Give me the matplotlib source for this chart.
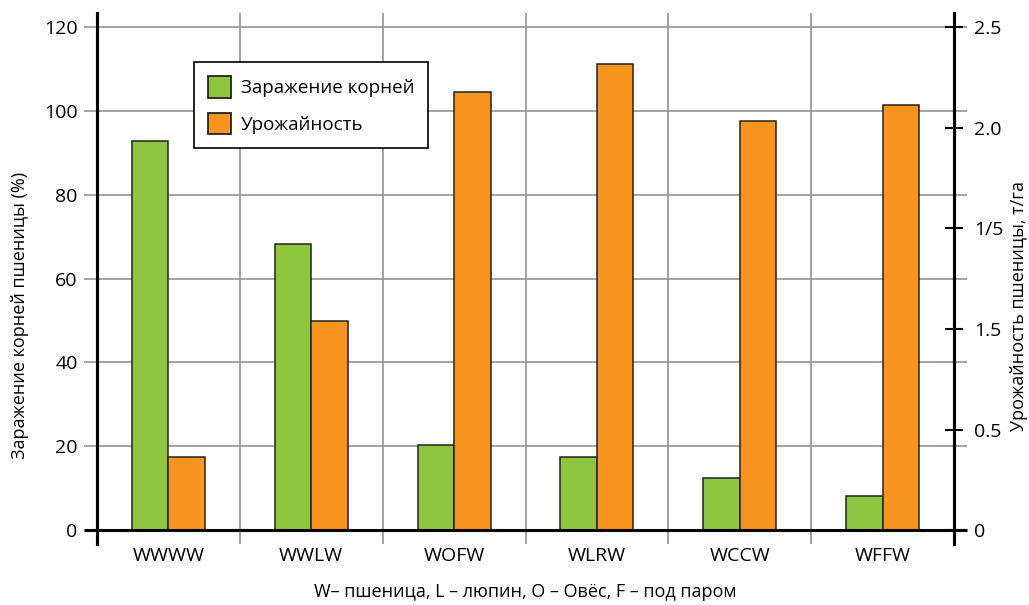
import numpy as np
import matplotlib.pyplot as plt
import matplotlib.transforms as mtransforms
from matplotlib.patches import Patch

plt.rcParams['font.family'] = ['Open Sans', 'DejaVu Sans']

# Данные
rotations = ['WWWW', 'WWLW', 'WOFW', 'WLRW', 'WCCW', 'WFFW']
infection = [92.7, 68.3, 20.3, 17.5, 12.4, 8.2]        # %
yield_t = [0.365, 1.04, 2.175, 2.315, 2.03, 2.11]      # т/га
right_ticks = [0, 0.5, 1.0, 1.5, 2.0, 2.5]
right_labels = ['0', '0.5', '1.5', '1/5', '2.0', '2.5']

green = '#8DC63F'
orange = '#F7941D'
grid_c = '#949494'

fig = plt.figure(figsize=(10.29, 6.05), dpi=100)
ax = fig.add_axes([0.0943, 0.1008, 0.8328, 0.8777])
ax2 = ax.twinx()

x = np.arange(len(rotations))
w = 0.256

lo, hi = -3.3, 123.3
ax.set_ylim(lo, hi)
ax2.set_ylim(lo / 48, hi / 48)
ax.set_xlim(-0.5, len(rotations) - 0.5)

# сетка (выходит за оси)
tr = mtransforms.blended_transform_factory(ax.transAxes, ax.transData)
ax.hlines([20, 40, 60, 80, 100, 120], -0.0152, 1.0152, transform=tr,
          color=grid_c, lw=1.2, clip_on=False, zorder=0)
for xv in np.arange(0.5, len(rotations) - 0.5, 1):
    ax.axvline(xv, color=grid_c, lw=1.2, zorder=0)

ax.bar(x - w / 2, infection, width=w, color=green, edgecolor='#222222',
       linewidth=1.1, zorder=2)
ax2.bar(x + w / 2, yield_t, width=w, color=orange, edgecolor='#222222',
        linewidth=1.1, zorder=2)

tr2 = mtransforms.blended_transform_factory(ax2.transAxes, ax2.transData)
ax2.hlines(0, -0.0152, 1.0152, transform=tr2, color='black', lw=2.2,
           clip_on=False, zorder=5)

for a in (ax, ax2):
    a.spines['top'].set_visible(False)
    a.spines['bottom'].set_visible(False)
    a.spines['left'].set_linewidth(2.2)
    a.spines['right'].set_linewidth(2.2)

ax.set_yticks([0, 20, 40, 60, 80, 100, 120])
ax.tick_params(axis='y', length=0, pad=14, labelsize=14)
ax.set_xticks(x)
ax.set_xticklabels(rotations)
ax.tick_params(axis='x', length=0, pad=2, labelsize=14)

ax2.set_yticks(right_ticks)
ax2.set_yticklabels(right_labels)
ax2.tick_params(axis='y', direction='inout', length=13, width=1.5,
                pad=8, labelsize=14)

fig.text(0.0195, 0.478, 'Заражение корней пшеницы (%)', rotation=90,
         ha='center', va='center', fontsize=13)
fig.text(0.990, 0.494, 'Урожайность пшеницы, т/га', rotation=90,
         ha='center', va='center', fontsize=13)
fig.text(0.51, 0.0215, 'W– пшеница, L – люпин, O – Овёс, F – под паром',
         ha='center', va='center', fontsize=13)

handles = [Patch(facecolor=green, edgecolor='#222222', linewidth=1.3, label='Заражение корней'),
           Patch(facecolor=orange, edgecolor='#222222', linewidth=1.3, label='Урожайность')]
leg = ax2.legend(handles=handles, loc='upper left', bbox_to_anchor=(0.113, 0.908),
                 borderaxespad=0, fancybox=False, framealpha=1, edgecolor='black',
                 fontsize=13.5, handlelength=1.25, handleheight=1.4,
                 borderpad=0.75, labelspacing=0.8, handletextpad=0.5)
leg.get_frame().set_linewidth(1.2)
leg.set_zorder(10)

fig.savefig('out.png', dpi=100)
